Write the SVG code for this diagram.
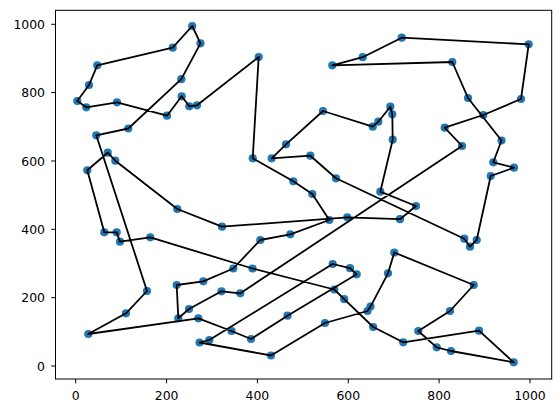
<svg xmlns="http://www.w3.org/2000/svg" width="560" height="413" viewBox="0 0 560 413">
<style>
.pt{fill:#1f77b4;}
.tour{fill:none;stroke:#000;stroke-width:1.8;stroke-linejoin:round;}
.spine{fill:none;stroke:#000;stroke-width:1;}
.tick{stroke:#000;stroke-width:1;}
.lbl{font-family:"DejaVu Sans",sans-serif;font-size:12.4px;fill:#000;}
</style>
<defs><circle id="dot" r="4.1"/></defs>
<rect width="560" height="413" fill="#fff"/>
<g id="axes">
<rect class="spine" x="55.5" y="10.3" width="496.2" height="368.7"/>
<g id="xticks">
<line class="tick" x1="75.7" y1="379" x2="75.7" y2="383.3"/>
<line class="tick" x1="166.6" y1="379" x2="166.6" y2="383.3"/>
<line class="tick" x1="257.4" y1="379" x2="257.4" y2="383.3"/>
<line class="tick" x1="348.3" y1="379" x2="348.3" y2="383.3"/>
<line class="tick" x1="439.1" y1="379" x2="439.1" y2="383.3"/>
<line class="tick" x1="530" y1="379" x2="530" y2="383.3"/>
<text class="lbl" x="75.7" y="399.5" text-anchor="middle">0</text>
<text class="lbl" x="166.6" y="399.5" text-anchor="middle">200</text>
<text class="lbl" x="257.4" y="399.5" text-anchor="middle">400</text>
<text class="lbl" x="348.3" y="399.5" text-anchor="middle">600</text>
<text class="lbl" x="439.1" y="399.5" text-anchor="middle">800</text>
<text class="lbl" x="530" y="399.5" text-anchor="middle">1000</text>
</g>
<g id="yticks">
<line class="tick" x1="51.2" y1="366" x2="55.5" y2="366"/>
<line class="tick" x1="51.2" y1="297.7" x2="55.5" y2="297.7"/>
<line class="tick" x1="51.2" y1="229.3" x2="55.5" y2="229.3"/>
<line class="tick" x1="51.2" y1="161" x2="55.5" y2="161"/>
<line class="tick" x1="51.2" y1="92.6" x2="55.5" y2="92.6"/>
<line class="tick" x1="51.2" y1="24.3" x2="55.5" y2="24.3"/>
<text class="lbl" x="45" y="370.5" text-anchor="end">0</text>
<text class="lbl" x="45" y="302.2" text-anchor="end">200</text>
<text class="lbl" x="45" y="233.8" text-anchor="end">400</text>
<text class="lbl" x="45" y="165.5" text-anchor="end">600</text>
<text class="lbl" x="45" y="97.1" text-anchor="end">800</text>
<text class="lbl" x="45" y="28.8" text-anchor="end">1000</text>
</g>
</g>
<g id="nodes" class="pt">
<g id="n1"><use href="#dot" x="192.2" y="26"/></g>
<g id="n2"><use href="#dot" x="172.7" y="47.7"/></g>
<g id="n3"><use href="#dot" x="97.3" y="65.3"/></g>
<g id="n4"><use href="#dot" x="89" y="85"/></g>
<g id="n5"><use href="#dot" x="77.3" y="101"/></g>
<g id="n6"><use href="#dot" x="86.3" y="107.3"/></g>
<g id="n7"><use href="#dot" x="117" y="102.3"/></g>
<g id="n8"><use href="#dot" x="167" y="115.7"/></g>
<g id="n9"><use href="#dot" x="181.7" y="96.3"/></g>
<g id="n10"><use href="#dot" x="189.3" y="106.3"/></g>
<g id="n11"><use href="#dot" x="197" y="105.3"/></g>
<g id="n12"><use href="#dot" x="258.7" y="57"/></g>
<g id="n13"><use href="#dot" x="252.7" y="158.3"/></g>
<g id="n14"><use href="#dot" x="293.3" y="181.3"/></g>
<g id="n15"><use href="#dot" x="312.3" y="194"/></g>
<g id="n16"><use href="#dot" x="329.3" y="220"/></g>
<g id="n17"><use href="#dot" x="290.3" y="234.3"/></g>
<g id="n18"><use href="#dot" x="260.3" y="240"/></g>
<g id="n19"><use href="#dot" x="233.3" y="268.5"/></g>
<g id="n20"><use href="#dot" x="203.3" y="281.3"/></g>
<g id="n21"><use href="#dot" x="176.7" y="285"/></g>
<g id="n22"><use href="#dot" x="178.3" y="318.3"/></g>
<g id="n23"><use href="#dot" x="189" y="309"/></g>
<g id="n24"><use href="#dot" x="221.5" y="291.3"/></g>
<g id="n25"><use href="#dot" x="240.3" y="293.3"/></g>
<g id="n26"><use href="#dot" x="462" y="146"/></g>
<g id="n27"><use href="#dot" x="444.7" y="127.7"/></g>
<g id="n28"><use href="#dot" x="483.3" y="115"/></g>
<g id="n29"><use href="#dot" x="521" y="99"/></g>
<g id="n30"><use href="#dot" x="528.7" y="44.3"/></g>
<g id="n31"><use href="#dot" x="401.7" y="37.7"/></g>
<g id="n32"><use href="#dot" x="362.7" y="57.2"/></g>
<g id="n33"><use href="#dot" x="332.3" y="65.3"/></g>
<g id="n34"><use href="#dot" x="452.3" y="62"/></g>
<g id="n35"><use href="#dot" x="468" y="98"/></g>
<g id="n36"><use href="#dot" x="501.5" y="140.5"/></g>
<g id="n37"><use href="#dot" x="493.3" y="162.3"/></g>
<g id="n38"><use href="#dot" x="514" y="167.7"/></g>
<g id="n39"><use href="#dot" x="490.7" y="176"/></g>
<g id="n40"><use href="#dot" x="476.7" y="240"/></g>
<g id="n41"><use href="#dot" x="470" y="246.7"/></g>
<g id="n42"><use href="#dot" x="464.3" y="238.7"/></g>
<g id="n43"><use href="#dot" x="336" y="178.3"/></g>
<g id="n44"><use href="#dot" x="310.3" y="155.7"/></g>
<g id="n45"><use href="#dot" x="271.7" y="158.3"/></g>
<g id="n46"><use href="#dot" x="286" y="144.3"/></g>
<g id="n47"><use href="#dot" x="323" y="111"/></g>
<g id="n48"><use href="#dot" x="372.7" y="126.7"/></g>
<g id="n49"><use href="#dot" x="378.3" y="121.7"/></g>
<g id="n50"><use href="#dot" x="390.3" y="106.7"/></g>
<g id="n51"><use href="#dot" x="392.3" y="114.3"/></g>
<g id="n52"><use href="#dot" x="392.7" y="139.7"/></g>
<g id="n53"><use href="#dot" x="380.3" y="191.7"/></g>
<g id="n54"><use href="#dot" x="416" y="206"/></g>
<g id="n55"><use href="#dot" x="400" y="219.2"/></g>
<g id="n56"><use href="#dot" x="347.3" y="217.3"/></g>
<g id="n57"><use href="#dot" x="222" y="226.7"/></g>
<g id="n58"><use href="#dot" x="177.3" y="209"/></g>
<g id="n59"><use href="#dot" x="115.3" y="160.7"/></g>
<g id="n60"><use href="#dot" x="107.7" y="152.7"/></g>
<g id="n61"><use href="#dot" x="87.3" y="170.3"/></g>
<g id="n62"><use href="#dot" x="104.3" y="232.3"/></g>
<g id="n63"><use href="#dot" x="116.7" y="232.3"/></g>
<g id="n64"><use href="#dot" x="120" y="241.7"/></g>
<g id="n65"><use href="#dot" x="150.3" y="237.3"/></g>
<g id="n66"><use href="#dot" x="252.5" y="268.5"/></g>
<g id="n67"><use href="#dot" x="334.3" y="289.5"/></g>
<g id="n68"><use href="#dot" x="344.2" y="299.2"/></g>
<g id="n69"><use href="#dot" x="373.2" y="327"/></g>
<g id="n70"><use href="#dot" x="403.2" y="342.3"/></g>
<g id="n71"><use href="#dot" x="479" y="330.7"/></g>
<g id="n72"><use href="#dot" x="513.7" y="362.3"/></g>
<g id="n73"><use href="#dot" x="451" y="351"/></g>
<g id="n74"><use href="#dot" x="436.7" y="347.3"/></g>
<g id="n75"><use href="#dot" x="418.3" y="331"/></g>
<g id="n76"><use href="#dot" x="450" y="311"/></g>
<g id="n77"><use href="#dot" x="473.7" y="285"/></g>
<g id="n78"><use href="#dot" x="394.3" y="252.5"/></g>
<g id="n79"><use href="#dot" x="388" y="273.3"/></g>
<g id="n80"><use href="#dot" x="370.5" y="306.6"/></g>
<g id="n81"><use href="#dot" x="367.5" y="311"/></g>
<g id="n82"><use href="#dot" x="325" y="323"/></g>
<g id="n83"><use href="#dot" x="271" y="355.5"/></g>
<g id="n84"><use href="#dot" x="199.5" y="342.5"/></g>
<g id="n85"><use href="#dot" x="209.3" y="340"/></g>
<g id="n86"><use href="#dot" x="332.7" y="264"/></g>
<g id="n87"><use href="#dot" x="350" y="268.2"/></g>
<g id="n88"><use href="#dot" x="356.7" y="274.3"/></g>
<g id="n89"><use href="#dot" x="287.5" y="315.7"/></g>
<g id="n90"><use href="#dot" x="251" y="339"/></g>
<g id="n91"><use href="#dot" x="231.5" y="331"/></g>
<g id="n92"><use href="#dot" x="198.3" y="318.3"/></g>
<g id="n93"><use href="#dot" x="88.3" y="334"/></g>
<g id="n94"><use href="#dot" x="126" y="313.3"/></g>
<g id="n95"><use href="#dot" x="147" y="291"/></g>
<g id="n96"><use href="#dot" x="96.3" y="135.3"/></g>
<g id="n97"><use href="#dot" x="128.3" y="128.5"/></g>
<g id="n98"><use href="#dot" x="181.3" y="79.2"/></g>
<g id="n99"><use href="#dot" x="200.5" y="43.3"/></g>
</g>
<g id="connectors">
<polygon class="tour" points="192.2,26 172.7,47.7 97.3,65.3 89,85 77.3,101 86.3,107.3 117,102.3 167,115.7 181.7,96.3 189.3,106.3 197,105.3 258.7,57 252.7,158.3 293.3,181.3 312.3,194 329.3,220 290.3,234.3 260.3,240 233.3,268.5 203.3,281.3 176.7,285 178.3,318.3 189,309 221.5,291.3 240.3,293.3 462,146 444.7,127.7 483.3,115 521,99 528.7,44.3 401.7,37.7 362.7,57.2 332.3,65.3 452.3,62 468,98 501.5,140.5 493.3,162.3 514,167.7 490.7,176 476.7,240 470,246.7 464.3,238.7 336,178.3 310.3,155.7 271.7,158.3 286,144.3 323,111 372.7,126.7 378.3,121.7 390.3,106.7 392.3,114.3 392.7,139.7 380.3,191.7 416,206 400,219.2 347.3,217.3 222,226.7 177.3,209 115.3,160.7 107.7,152.7 87.3,170.3 104.3,232.3 116.7,232.3 120,241.7 150.3,237.3 252.5,268.5 334.3,289.5 344.2,299.2 373.2,327 403.2,342.3 479,330.7 513.7,362.3 451,351 436.7,347.3 418.3,331 450,311 473.7,285 394.3,252.5 388,273.3 370.5,306.6 367.5,311 325,323 271,355.5 199.5,342.5 209.3,340 332.7,264 350,268.2 356.7,274.3 287.5,315.7 251,339 231.5,331 198.3,318.3 88.3,334 126,313.3 147,291 96.3,135.3 128.3,128.5 181.3,79.2 200.5,43.3"/>
</g>
</svg>
